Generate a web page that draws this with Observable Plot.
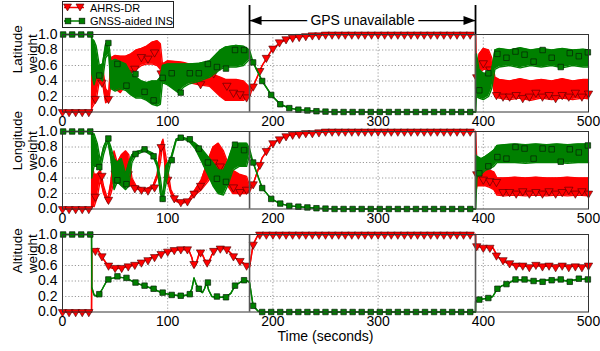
<!DOCTYPE html>
<html><head><meta charset="utf-8">
<script src="https://cdn.jsdelivr.net/npm/d3@7"></script>
<script src="https://cdn.jsdelivr.net/npm/@observablehq/plot@0.6"></script>
<style>
html,body{margin:0;padding:0;background:#fff;}
#chart{position:relative;width:600px;height:351px;overflow:hidden;font-family:"Liberation Sans",Arial,sans-serif;}
#chart > svg{position:absolute;left:0;overflow:visible;}
#legend{position:absolute;left:62px;top:1px;width:110px;height:25px;border:1px solid #222;background:#fff;font-size:11px;color:#000;}
#legend span{position:absolute;left:27px;line-height:12px;white-space:nowrap;}
#legend svg{position:absolute;left:0;top:0;}
</style></head><body><div id="chart"></div>
<script>
// ---------------- data ----------------
const seriesNames = ["AHRS-DR", "GNSS-aided INS"];
const panelTitles = ["Latitude\nweight", "Longitude\nweight", "Altitude\nweight"];
const xTicks = [0, 100, 200, 300, 400, 500];
const yTicks = [0, 0.2, 0.4, 0.6, 0.8, 1.0];
const gpsStart = 177.8, gpsEnd = 392.6;
const gpsLabel = "GPS unavailable";
const xLabel = "Time (seconds)";

// marker times
const redMarkT = [0,6.25,12.5,18.75,25,31.25,37.5,43.75,50,56.25,62.5,68.75,75,81.25,87.5,93.75,100,106.25,112.5,118.75,125,131.25,137.5,143.75,150,156.25,162.5,168.75,175,181.25,187.5,193.75,200,206.25,212.5,218.75,225,231.25,237.5,243.75,250,256.25,262.5,268.75,275,281.25,287.5,293.75,300,306.25,312.5,318.75,325,331.25,337.5,343.75,350,356.25,362.5,368.75,375,381.25,387.5,393.75,400,406.25,412.5,418.75,425,431.25,437.5,443.75,450,456.25,462.5,468.75,475,481.25,487.5,493.75,500];
const grnMarkT = [0.6,9.2,17.8,26.4,35,43.6,52.2,60.8,69.4,78,86.6,95.2,103.8,112.4,121,129.6,138.2,146.8,155.4,164,172.6,181.2,189.8,198.4,207,215.6,224.2,232.8,241.4,250,258.6,267.2,275.8,284.4,293,301.6,310.2,318.8,327.4,336,344.6,353.2,361.8,370.4,379,387.6,396.2,404.8,413.4,422,430.6,439.2,447.8,456.4,465,473.6,482.2,490.8,499.4];

// Latitude panel: envelopes (lo/hi of the fast-oscillating traces)
const latT   = [0,27.6,27.8,30,32,35,38,41,44,46,50,55,60,65,70,75,80,85,90,93,95,100,110,115,120,130,140,150,155,165,172,177.8,181.2,189.8,198.4,207,215.6,224.2,232.8,241.4,250,270,392.6,392.7,393.5,396,400,405,408,411,415,425,435,445,455,465,475,485,495,500];
const latRLo = [0,0,0.05,0.1,0.15,0.4,0.38,0.12,0.15,0.35,0.3,0.25,0.35,0.5,0.55,0.6,0.62,0.62,0.6,0.55,0.4,0.38,0.36,0.38,0.38,0.35,0.33,0.2,0.15,0.15,0.15,0.2,0.33,0.6,0.79,0.9,0.95,0.97,0.98,0.99,1,1,1,0.3,0.3,0.5,0.55,0.55,0.45,0.2,0.18,0.16,0.18,0.15,0.18,0.16,0.18,0.16,0.18,0.17];
const latRHi = [0,0,0.5,0.6,0.55,0.55,0.6,0.3,0.25,0.7,0.73,0.72,0.72,0.75,0.8,0.82,0.85,0.9,0.92,0.88,0.62,0.66,0.65,0.64,0.62,0.6,0.5,0.45,0.42,0.42,0.4,0.32,0.33,0.6,0.79,0.9,0.95,0.97,0.98,0.99,1,1,1,1,0.55,0.75,0.82,0.8,0.7,0.45,0.42,0.4,0.43,0.4,0.42,0.4,0.43,0.4,0.42,0.42];
const latGLo = [1,1,0.5,0.35,0.45,0.45,0.4,0.7,0.75,0.3,0.27,0.3,0.28,0.22,0.18,0.18,0.15,0.1,0.08,0.1,0.38,0.35,0.25,0.32,0.36,0.4,0.45,0.55,0.58,0.58,0.6,0.68,0.64,0.4,0.22,0.1,0.05,0.03,0.02,0.01,0.005,0,0,0,0.2,0.18,0.16,0.2,0.3,0.55,0.58,0.6,0.57,0.6,0.58,0.6,0.57,0.6,0.58,0.58];
const latGHi = [1,1,0.95,0.92,0.85,0.6,0.62,0.88,0.89,0.65,0.68,0.65,0.62,0.5,0.45,0.4,0.38,0.4,0.4,0.45,0.6,0.62,0.62,0.62,0.62,0.63,0.66,0.8,0.84,0.86,0.85,0.8,0.64,0.4,0.22,0.1,0.05,0.03,0.02,0.01,0.005,0,0,0.75,0.75,0.55,0.5,0.5,0.55,0.8,0.82,0.8,0.83,0.8,0.82,0.8,0.82,0.8,0.81,0.8];
const latRedM = [0,0,0,0,0,0.17,0.38,0.17,0.45,0.45,0.5,0.56,0.71,0.69,0.77,0.5,0.5,0.45,0.5,0.5,0.45,0.36,0.5,0.5,0.6,0.34,0.25,0.23,0.19,0.33,0.53,0.7,0.82,0.9,0.94,0.96,0.97,0.98,0.99,0.99,1,1,1,1,1,1,1,1,1,1,1,1,1,1,1,1,1,1,1,1,1,1,1,0.45,0.63,0.55,0.22,0.2,0.2,0.22,0.18,0.2,0.25,0.2,0.22,0.18,0.22,0.2,0.25,0.2,0.24];
const latGrnM = [1,1,1,1,0.47,0.89,0.62,0.34,0.49,0.26,0.15,0.44,0.5,0.25,0.5,0.5,0.62,0.58,0.56,0.8,0.8,0.64,0.4,0.22,0.1,0.05,0.03,0.02,0.01,0.005,0,0,0,0,0,0,0,0,0,0,0,0,0,0,0,0,0.28,0.5,0.75,0.7,0.78,0.74,0.65,0.8,0.7,0.58,0.76,0.72,0.77];

// Longitude panel
const lonT   = [0,27.6,27.8,30,33,36,39,43,46,49,52,56,60,63,66,70,78,86,90,93,95.5,98,103,108,113,120,126,132,138,143,148,153,157,162,168,175,177.8,181.2,189.8,198.4,207,215.6,224.2,232.8,241.4,250,270,392.6,392.7,394,398,402,406,410,413,420,430,440,450,460,470,480,490,500];
const lonRLo = [0,0,0.05,0.03,0.15,0.38,0.2,0.08,0.2,0.35,0.4,0.3,0.45,0.3,0.3,0.26,0.23,0.27,0.4,0.6,0.85,0.45,0.2,0.1,0.07,0.1,0.18,0.25,0.35,0.45,0.45,0.4,0.3,0.2,0.2,0.2,0.22,0.32,0.66,0.83,0.91,0.95,0.97,0.98,0.99,0.995,1,1,0.2,0.3,0.3,0.3,0.28,0.25,0.18,0.17,0.18,0.17,0.18,0.17,0.18,0.17,0.18,0.17];
const lonRHi = [0,0,0.6,0.45,0.45,0.5,0.3,0.12,0.35,0.75,0.6,0.7,0.75,0.7,0.4,0.3,0.25,0.3,0.45,0.8,0.9,0.7,0.25,0.12,0.09,0.12,0.25,0.38,0.62,0.8,0.85,0.75,0.6,0.5,0.45,0.42,0.3,0.32,0.66,0.83,0.91,0.95,0.97,0.98,0.99,0.995,1,1,1,0.55,0.5,0.5,0.5,0.48,0.4,0.4,0.41,0.4,0.41,0.4,0.4,0.41,0.4,0.4];
const lonGLo = [1,1,0.4,0.55,0.55,0.5,0.7,0.88,0.65,0.25,0.35,0.3,0.25,0.3,0.6,0.7,0.75,0.68,0.55,0.2,0.1,0.3,0.62,0.88,0.91,0.88,0.78,0.62,0.45,0.3,0.2,0.18,0.3,0.5,0.55,0.55,0.7,0.6,0.27,0.13,0.07,0.04,0.03,0.02,0.01,0.005,0,0,0,0.42,0.45,0.5,0.52,0.55,0.6,0.6,0.6,0.59,0.6,0.6,0.6,0.59,0.6,0.6];
const lonGHi = [1,1,0.95,0.97,0.85,0.62,0.8,0.92,0.8,0.65,0.6,0.65,0.45,0.6,0.7,0.74,0.77,0.72,0.6,0.4,0.15,0.55,0.66,0.9,0.93,0.9,0.85,0.78,0.68,0.6,0.5,0.5,0.62,0.82,0.85,0.85,0.78,0.6,0.27,0.13,0.07,0.04,0.03,0.02,0.01,0.005,0,0,0.7,0.68,0.65,0.68,0.72,0.76,0.82,0.83,0.84,0.83,0.84,0.83,0.84,0.83,0.84,0.84];
const lonRedM = [0,0,0,0,0,0.16,0.43,0.12,0.46,0.4,0.45,0.27,0.25,0.24,0.28,0.8,0.38,0.14,0.09,0.1,0.2,0.3,0.54,0.6,0.55,0.4,0.28,0.22,0.25,0.32,0.57,0.75,0.85,0.9,0.94,0.96,0.97,0.98,0.98,0.99,1,1,1,1,1,1,1,1,1,1,1,1,1,1,1,1,1,1,1,1,1,1,1,0.45,0.38,0.36,0.35,0.22,0.22,0.2,0.23,0.2,0.22,0.2,0.23,0.2,0.22,0.25,0.2,0.23,0.2];
const lonGrnM = [1,1,1,1,0.54,0.91,0.37,0.32,0.71,0.77,0.68,0.13,0.63,0.92,0.9,0.78,0.6,0.39,0.35,0.83,0.76,0.6,0.27,0.13,0.07,0.04,0.03,0.02,0.01,0.005,0,0,0,0,0,0,0,0,0,0,0,0,0,0,0,0,0.46,0.55,0.67,0.65,0.8,0.78,0.65,0.78,0.77,0.61,0.77,0.73,0.82];

// Altitude panel (smooth traces)
const altT   = [0,27.6,27.8,30,33,35,38,42,46,52,60,69,77,86,94,104,113,120,123,125,127,130,133,135,137,139,142,147,155,160,164,172,176,177.8,181.2,186,190,392.6,392.7,396.2,404.8,409,413.4,418,423,430,440,450,460,470,480,490,500];
const altR   = [0,0,0.8,0.78,0.82,0.77,0.7,0.62,0.57,0.56,0.58,0.61,0.66,0.71,0.76,0.79,0.81,0.8,0.7,0.58,0.62,0.76,0.74,0.68,0.64,0.64,0.74,0.82,0.82,0.76,0.7,0.63,0.59,0.58,0.87,1,1,1,0.85,0.84,0.83,0.83,0.72,0.66,0.63,0.6,0.59,0.6,0.59,0.6,0.59,0.59,0.6];
const altG   = [1,1,0.32,0.22,0.2,0.23,0.3,0.4,0.43,0.45,0.44,0.38,0.34,0.3,0.25,0.22,0.21,0.22,0.3,0.44,0.36,0.28,0.25,0.3,0.38,0.28,0.2,0.19,0.19,0.24,0.34,0.41,0.4,0.38,0.08,0.01,0,0,0.14,0.16,0.18,0.2,0.3,0.34,0.36,0.42,0.41,0.4,0.41,0.42,0.4,0.42,0.43];
const altRedM = [0,0,0,0,0,0.79,0.72,0.6,0.57,0.57,0.59,0.61,0.64,0.67,0.71,0.75,0.78,0.8,0.81,0.81,0.62,0.77,0.64,0.79,0.82,0.81,0.72,0.66,0.6,0.87,1,1,1,1,1,1,1,1,1,1,1,1,1,1,1,1,1,1,1,1,1,1,1,1,1,1,1,1,1,1,1,1,1,0.85,0.83,0.83,0.73,0.67,0.63,0.6,0.6,0.58,0.61,0.59,0.6,0.58,0.6,0.58,0.59,0.58,0.6];
const altGrnM = [1,1,1,1,0.23,0.42,0.46,0.44,0.38,0.34,0.3,0.25,0.22,0.21,0.23,0.3,0.38,0.2,0.19,0.34,0.41,0.08,0,0,0,0,0,0,0,0,0,0,0,0,0,0,0,0,0,0,0,0,0,0,0,0,0.16,0.18,0.3,0.36,0.42,0.42,0.4,0.39,0.41,0.42,0.39,0.43,0.42];

// ---------------- drawing ----------------
const RED = "#ff0000", GREEN = "#008000";
const FONT = "'Liberation Sans', Arial, Helvetica, sans-serif";
const chart = document.getElementById("chart");

const arrowLeft = {draw(ctx) { ctx.moveTo(0, 0); ctx.lineTo(12, -4.5); ctx.lineTo(12, 4.5); ctx.closePath(); }};
const arrowRight = {draw(ctx) { ctx.moveTo(0, 0); ctx.lineTo(-12, -4.5); ctx.lineTo(-12, 4.5); ctx.closePath(); }};

function panel({T, rLo, rHi, gLo, gHi, rM, gM, title, top, mt, mb, extras = []}) {
  const env = T.map((t, i) => ({t, rLo: rLo[i], rHi: rHi[i], gLo: gLo[i], gHi: gHi[i]}));
  const rm = redMarkT.map((t, i) => ({t, v: rM[i]}));
  const gm = grnMarkT.map((t, i) => ({t, v: gM[i]}));
  const svg = Plot.plot({
    width: 600, height: mt + 77.5 + mb,
    marginLeft: 62, marginRight: 12, marginTop: mt, marginBottom: mb,
    x: {domain: [0, 500]}, y: {domain: [0, 1]},
    style: {fontFamily: FONT, fontSize: "14px", background: "transparent", overflow: "visible", color: "#000"},
    marks: [
      Plot.gridY(yTicks.slice(1, -1), {stroke: "#9a9a9a", strokeOpacity: 1, strokeDasharray: "1.2,2"}),
      Plot.gridX(xTicks.slice(1, -1), {stroke: "#9a9a9a", strokeOpacity: 1, strokeDasharray: "1.2,2"}),
      Plot.areaY(env, {x: "t", y1: "rLo", y2: "rHi", fill: RED}),
      Plot.line(env, {x: "t", y: "rLo", stroke: RED, strokeWidth: 1.4}),
      Plot.line(env, {x: "t", y: "rHi", stroke: RED, strokeWidth: 1.4}),
      Plot.dot(rm, {x: "t", y: "v", symbol: "triangle", rotate: 180, r: 3.1, fill: RED, stroke: "#4a0000", strokeWidth: 0.6}),
      Plot.areaY(env, {x: "t", y1: "gLo", y2: "gHi", fill: GREEN}),
      Plot.line(env, {x: "t", y: "gLo", stroke: GREEN, strokeWidth: 1.4}),
      Plot.line(env, {x: "t", y: "gHi", stroke: GREEN, strokeWidth: 1.4}),
      Plot.dot(gm, {x: "t", y: "v", symbol: "square", r: 3.1, fill: GREEN, stroke: "#062006", strokeWidth: 0.7}),
      Plot.ruleX([gpsStart, gpsEnd], {y1: 0, y2: 1, stroke: "#555", strokeWidth: 1.6}),
      Plot.frame({stroke: "#333", strokeWidth: 1}),
      Plot.axisY(yTicks, {tickSize: 0, tickPadding: 5, tickFormat: d3.format(".1f"), label: null}),
      Plot.axisX(xTicks, {tickSize: 0, tickPadding: 4, label: null}),
      Plot.text([title], {text: d => d, frameAnchor: "left", dx: -38, rotate: -90, lineHeight: 1.1, fontSize: 13.5}),
      ...extras
    ]
  });
  svg.style.top = top + "px";
  chart.append(svg);
}

const annoY = 1.18, annoTop = 1.374;
panel({T: latT, rLo: latRLo, rHi: latRHi, gLo: latGLo, gHi: latGHi, rM: latRedM, gM: latGrnM,
  title: panelTitles[0], top: 0, mt: 34, mb: 22,
  extras: [
    Plot.ruleX([gpsStart, gpsEnd], {y1: 1, y2: annoTop, stroke: "#000", strokeWidth: 1.8}),
    Plot.ruleY([annoY], {x1: gpsStart, x2: gpsEnd, stroke: "#000", strokeWidth: 1.3}),
    Plot.dot([gpsStart], {x: d => d, y: annoY, symbol: arrowLeft, fill: "#000", stroke: "none"}),
    Plot.dot([gpsEnd], {x: d => d, y: annoY, symbol: arrowRight, fill: "#000", stroke: "none"}),
    Plot.text([gpsLabel], {text: d => d, x: (gpsStart + gpsEnd) / 2, y: annoY, fontSize: 14, fill: "#000", stroke: "#fff", strokeWidth: 8})
  ]});
panel({T: lonT, rLo: lonRLo, rHi: lonRHi, gLo: lonGLo, gHi: lonGHi, rM: lonRedM, gM: lonGrnM,
  title: panelTitles[1], top: 121, mt: 10, mb: 20});
panel({T: altT, rLo: altR, rHi: altR, gLo: altG, gHi: altG, rM: altRedM, gM: altGrnM,
  title: panelTitles[2], top: 223.5, mt: 10, mb: 40,
  extras: [Plot.text([xLabel], {text: d => d, frameAnchor: "bottom", dy: 29, fontSize: 14})]});

// legend
const legend = document.createElement("div");
legend.id = "legend";
legend.innerHTML = `
<svg width="110" height="25">
  <line x1="1" y1="5.5" x2="21" y2="5.5" stroke="${RED}" stroke-width="1.5"/>
  <polygon points="0.5,2 8.5,2 4.5,9" fill="${RED}" stroke="#4a0000" stroke-width="0.6"/>
  <polygon points="13,2 21,2 17,9" fill="${RED}" stroke="#4a0000" stroke-width="0.6"/>
  <line x1="1" y1="19" x2="21" y2="19" stroke="${GREEN}" stroke-width="1.5"/>
  <rect x="2.2" y="16.2" width="5.6" height="5.6" fill="${GREEN}" stroke="#062006" stroke-width="0.7"/>
  <rect x="16.2" y="16.2" width="5.6" height="5.6" fill="${GREEN}" stroke="#062006" stroke-width="0.7"/>
</svg>
<span style="top:0px">${seriesNames[0]}</span>
<span style="top:13px">${seriesNames[1]}</span>`;
chart.append(legend);
</script></body></html>
